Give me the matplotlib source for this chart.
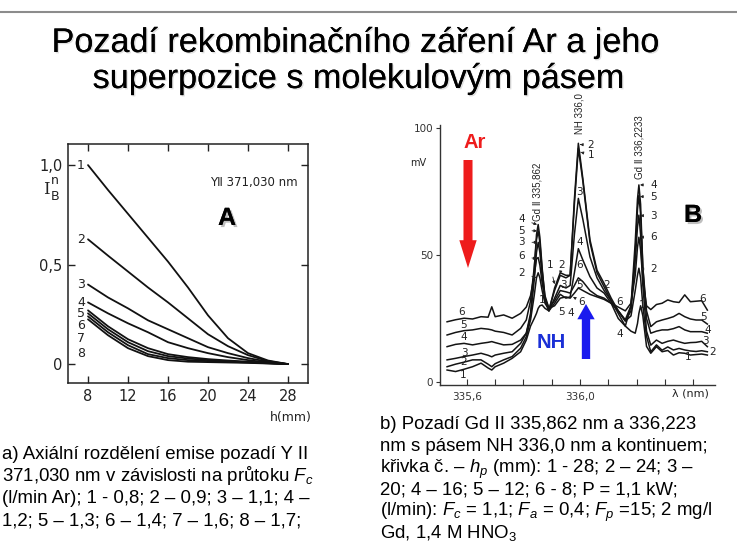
import numpy as np
import matplotlib
matplotlib.use('Agg')
import matplotlib.pyplot as plt
import matplotlib.patheffects as pe
from matplotlib.lines import Line2D

plt.rcParams['font.family'] = ['DejaVu Sans']
plt.rcParams['mathtext.fontset'] = 'custom'
plt.rcParams['mathtext.rm'] = 'Liberation Sans'
plt.rcParams['mathtext.it'] = 'Liberation Sans:italic'

# --- A: axial background distribution, Y II 371,030 nm ---
h_mm = [8, 10, 12, 14, 16, 18, 20, 22, 24, 26, 28]
ia_1 = [1.0, 0.875, 0.755, 0.635, 0.515, 0.385, 0.245, 0.13, 0.055, 0.018, 0.0]
ia_2 = [0.627, 0.545, 0.465, 0.385, 0.31, 0.23, 0.15, 0.09, 0.045, 0.015, 0.0]
ia_3 = [0.40, 0.335, 0.28, 0.22, 0.175, 0.13, 0.085, 0.055, 0.03, 0.012, 0.0]
ia_4 = [0.31, 0.255, 0.205, 0.16, 0.11, 0.08, 0.055, 0.035, 0.02, 0.008, 0.0]
ia_5 = [0.27, 0.19, 0.125, 0.08, 0.05, 0.035, 0.025, 0.018, 0.012, 0.006, 0.0]
ia_6 = [0.255, 0.175, 0.11, 0.065, 0.04, 0.028, 0.02, 0.014, 0.01, 0.005, 0.0]
ia_7 = [0.24, 0.16, 0.095, 0.05, 0.03, 0.02, 0.015, 0.012, 0.008, 0.004, 0.0]
ia_8 = [0.225, 0.145, 0.08, 0.04, 0.02, 0.012, 0.01, 0.008, 0.006, 0.003, 0.0]
curves_a = [ia_1, ia_2, ia_3, ia_4, ia_5, ia_6, ia_7, ia_8]
names_a = ['1', '2', '3', '4', '5', '6', '7', '8']

# --- B: Gd II lines on the NH band, curves 1-6 ---
lam = [335.53, 335.56, 335.59, 335.62, 335.65, 335.675, 335.688, 335.70, 335.73,
       335.76, 335.79, 335.81, 335.825, 335.838, 335.846, 335.852, 335.858,
       335.866, 335.876, 335.89, 335.91, 335.93, 335.95, 335.965, 335.98,
       335.994, 336.01, 336.035, 336.06, 336.085, 336.11, 336.135, 336.16,
       336.18, 336.195, 336.203, 336.208, 336.214, 336.222, 336.235, 336.25,
       336.27, 336.29, 336.31, 336.33, 336.35, 336.37, 336.39, 336.41, 336.43,
       336.45]
mv_1 = [4.7, 4.1, 5.0, 6.0, 7.4, 5.5, 4.7, 6.0, 7.4, 9.3, 11.9, 16.5, 22, 25,
        27, 29, 30, 30.3, 29, 28, 37, 43, 42, 42, 70, 92, 79, 55, 43, 37.5, 32,
        27, 22, 20, 19.2, 23, 27, 30, 26, 14, 11.3, 13.9, 11.9, 12.4, 10.6,
        11.5, 11.3, 10.6, 10.8, 11.0, 10.6]
mv_2 = [6.0, 7.0, 7.8, 8.7, 8.7, 7.0, 6.0, 7.2, 8.7, 10.0, 13.3, 17.8, 24.4,
        34, 41, 43, 41, 36, 31, 28.5, 36, 42, 41, 42, 72, 94, 80, 56, 44, 38.8,
        33, 28, 24, 26, 36, 42, 44.8, 41, 30, 18, 11.9, 14.6, 12.5, 13.8, 12.6,
        13.2, 12.6, 12.2, 12.0, 12.3, 11.9]
mv_3 = [8.7, 9.3, 10.0, 10.6, 11.3, 10.5, 9.9, 10.6, 11.3, 11.9, 15.2, 19.2,
        25.7, 40, 51, 55, 51, 42, 32, 28, 33, 38, 37, 38, 58, 72.3, 64, 49.3,
        41, 36, 32, 28, 24, 28, 48, 61, 65.7, 58, 38, 20, 14.5, 16.5, 15.2,
        16.0, 16.5, 15.8, 15.2, 15.5, 15.6, 16.0, 13.9]
mv_4 = [13.9, 14.8, 15.2, 14.6, 15.2, 15.6, 15.9, 15.5, 14.6, 14.8, 16.5, 19.2,
        27, 44, 58, 62, 57, 45, 33, 28, 31, 34.5, 33, 33.5, 43, 52.5, 48, 41.5,
        37, 35, 31, 25, 22, 30, 55, 72, 77.6, 70, 45, 25, 19.2, 20.0, 20.5,
        20.5, 21.0, 21.8, 20.5, 19.8, 19.8, 19.8, 19.2]
mv_5 = [18.5, 19.5, 20.2, 20.5, 21.1, 20.8, 20.5, 20.0, 19.5, 18.5, 21.1, 24.4,
        32, 45, 56, 59.5, 55, 44, 34, 29, 32, 36, 35.5, 35, 38, 41, 39.5, 36,
        34, 33, 31, 28, 24.5, 30, 50, 68, 73.5, 66, 45, 28, 21.8, 23.7, 24.4,
        25.0, 25.7, 27.0, 25.7, 24.8, 24.4, 24.4, 22.8]
mv_6 = [23.7, 24.5, 25.1, 24.8, 25.7, 25.5, 29.6, 25.7, 26.4, 25.1, 27.0, 29.5,
        34, 42, 48.5, 49, 46, 39, 33, 29, 30, 33, 33.5, 33, 35, 37, 36, 34.5,
        33.5, 32.5, 31, 29.5, 28, 31, 42, 53, 57, 52, 40, 30, 28.5, 30.5, 31.0,
        32.3, 31.6, 31.3, 34.3, 31.6, 31.8, 32.0, 28.3]
curves_b = [mv_1, mv_2, mv_3, mv_4, mv_5, mv_6]

W, H = 737, 550
fig = plt.figure(figsize=(W / 100, H / 100), dpi=100)
fig.patch.set_facecolor('white')


def fpx(x, y):
    # pixel position measured from the top-left corner -> figure fraction
    return x / W, 1 - y / H


shadow = [pe.withSimplePatchShadow(offset=(1.5, -1.5), shadow_rgbFace='k', alpha=0.25),
          pe.Normal()]
soft_shadow = [pe.withSimplePatchShadow(offset=(1, -1), shadow_rgbFace='k', alpha=0.12),
               pe.Normal()]

# header rule and title
fig.add_artist(Line2D([0, 1], [1 - 12 / H] * 2, color='#8c8c8c', lw=1.5))
title_font = dict(family='Liberation Sans', fontsize=24.6, ha='center', va='baseline',
                  color='black', path_effects=soft_shadow)
fig.text(*fpx(355, 52), 'Pozadí rekombinačního záření Ar a jeho', **title_font)
fig.text(*fpx(358, 88), 'superpozice s molekulovým pásem', **title_font)

# ---------------- panel A ----------------
axA = fig.add_axes([68 / W, 1 - 383 / H, 240 / W, 239 / H])
for c in curves_a:
    axA.plot(h_mm, c, color='#111111', lw=1.3, solid_capstyle='round')
axA.set_xlim(6, 30)
axA.set_ylim(-0.095, 1.106)
axA.set_xticks([8, 12, 16, 20, 24, 28])
axA.set_yticks([0, 0.5, 1.0])
axA.set_yticklabels(['0', '0,5', '1,0'])
axA.tick_params(direction='in', top=True, right=True, length=5, width=1,
                labelsize=10.5, colors='#222222', pad=4)
for s in axA.spines.values():
    s.set_linewidth(1.1)
    s.set_color('#222222')
label_y_a = [1.0, 0.627, 0.40, 0.312, 0.254, 0.193, 0.131, 0.055]
for name, yy in zip(names_a, label_y_a):
    axA.text(7.7, yy, name, ha='right', va='center', fontsize=9, color='#222222')
axA.text(29.0, 0.915, 'YⅡ 371,030 nm', ha='right', va='center', fontsize=8.5,
         color='#222222')
fig.text(*fpx(227, 218), 'A', family='Liberation Sans', fontweight='bold',
         fontsize=18, ha='center', va='center', path_effects=shadow)
# ordinate symbol I_B^n
fig.text(*fpx(46, 189), 'I', family='DejaVu Serif', fontsize=12,
         ha='center', va='center', color='#222222')
fig.text(*fpx(55, 180), 'n', fontsize=9, ha='center', va='center', color='#222222')
fig.text(*fpx(55, 196), 'B', fontsize=9, ha='center', va='center', color='#222222')
fig.text(*fpx(291, 418), 'h(mm)', fontsize=9, ha='center', va='center',
         color='#222222')

# ---------------- panel B ----------------
axB = fig.add_axes([440 / W, 1 - 385 / H, 275 / W, 260 / H])
for c in curves_b:
    axB.plot(lam, c, color='#141414', lw=1.1)
axB.set_xlim(335.505, 336.477)
axB.set_ylim(-1.2, 101.2)
axB.spines['top'].set_visible(False)
axB.spines['right'].set_visible(False)
for s in ('left', 'bottom'):
    axB.spines[s].set_linewidth(1.0)
    axB.spines[s].set_color('#333333')
axB.set_xticks([335.6, 335.7, 335.8, 335.9, 336.0, 336.1, 336.2, 336.3, 336.4])
axB.set_xticklabels(['335,6', '', '', '', '336,0', '', '', '', ''])
axB.set_yticks([0, 50, 100])
axB.set_yticklabels(['0', '50', '100'])
axB.tick_params(axis='x', direction='in', length=4, labelsize=7.5,
                colors='#333333', pad=5)
axB.tick_params(axis='y', direction='out', length=3, labelsize=7.5,
                colors='#333333', pad=2)

lab_font = dict(fontsize=7.5, color='#222222', ha='center', va='center')
# plain curve numbers
plain_labels = [('6', 335.582, 27.7), ('5', 335.588, 22.4), ('4', 335.588, 17.8),
                ('3', 335.592, 11.5), ('2', 335.588, 8.0), ('1', 335.588, 2.8),
                ('1', 335.866, 32.3), ('3', 335.941, 38.2), ('5', 335.935, 27.7),
                ('4', 335.967, 27.3), ('3', 335.998, 74.9), ('4', 335.998, 55.2),
                ('6', 335.998, 46.0), ('5', 335.998, 38.2), ('2', 336.094, 38.2),
                ('6', 336.141, 31.6), ('4', 336.139, 18.8), ('1', 336.218, 30.3),
                ('6', 336.434, 32.6), ('5', 336.437, 25.6), ('4', 336.452, 20.6),
                ('3', 336.445, 16.2), ('2', 336.468, 11.8), ('1', 336.383, 9.8)]
for t, x, y in plain_labels:
    axB.text(x, y, t, **lab_font)
# numbers with leaders to the line maxima
lead_labels = [('4', 335.794, 64.0, 335.848, 62.0), ('5', 335.794, 59.6, 335.848, 59.5),
               ('3', 335.794, 55.0, 335.849, 55.0), ('6', 335.794, 49.6, 335.846, 48.5),
               ('2', 335.794, 43.0, 335.846, 41.0), ('1', 335.894, 46.0, 335.91, 38.5),
               ('2', 335.935, 46.0, 335.93, 42.5), ('6', 336.006, 31.6, 335.975, 33.5),
               ('2', 336.038, 93.3, 336.0, 93.5), ('1', 336.038, 89.4, 336.002, 90.5),
               ('4', 336.259, 77.6, 336.212, 77.6), ('5', 336.259, 73.0, 336.212, 73.0),
               ('3', 336.259, 65.5, 336.213, 65.5), ('6', 336.259, 57.2, 336.213, 57.0),
               ('2', 336.259, 44.5, 336.214, 44.5)]
for t, x, y, xa, ya in lead_labels:
    axB.annotate(t, xy=(xa, ya), xytext=(x, y), **lab_font,
                 arrowprops=dict(arrowstyle='-|>', lw=0.6, color='#222222',
                                 mutation_scale=4, shrinkA=3, shrinkB=0))

peak_font = dict(family=['Liberation Sans', 'DejaVu Sans'], fontsize=7, rotation=90,
                 ha='center', va='center', color='#222222')
fig.text(*fpx(537, 192), 'Gd Ⅱ 335,862', **peak_font)
fig.text(*fpx(579, 114), 'NH 336,0', **peak_font)
fig.text(*fpx(640, 147), 'Gd Ⅱ 336,2233', **peak_font)
fig.text(*fpx(418, 163), 'mV', fontsize=7, ha='center', va='center', color='#222222')
fig.text(*fpx(690, 393), 'λ (nm)', fontsize=8, ha='center', va='center',
         color='#222222')

# Ar (down) and NH (up) arrows
fig.text(*fpx(475, 143), 'Ar', family='Liberation Sans', fontweight='bold',
         fontsize=14.5, color='#ee1c1c', ha='center', va='center')
axB.annotate('', xy=fpx(468, 268), xytext=fpx(468, 160), xycoords='figure fraction',
             textcoords='figure fraction',
             arrowprops=dict(facecolor='#ee1c1c', edgecolor='none', width=6.5,
                             headwidth=12.5, headlength=20, shrink=0))
fig.text(*fpx(551, 343), 'NH', family='Liberation Sans', fontweight='bold',
         fontsize=14.5, color='#1a2fd6', ha='center', va='center')
axB.annotate('', xy=fpx(586, 304), xytext=fpx(586, 359), xycoords='figure fraction',
             textcoords='figure fraction',
             arrowprops=dict(facecolor='#1a1aee', edgecolor='none', width=6,
                             headwidth=12.5, headlength=11, shrink=0))
fig.text(*fpx(693, 215), 'B', family='Liberation Sans', fontweight='bold',
         fontsize=18, ha='center', va='center', path_effects=shadow)

# captions
cap_font = dict(family='Liberation Sans', fontsize=13.4, ha='left', va='baseline',
                color='black')
cap_a = ['a) Axiální rozdělení emise pozadí Y II',
         r'371,030 nm v závislosti na průtoku $F_c$',
         '(l/min Ar); 1 - 0,8; 2 – 0,9; 3 – 1,1; 4 –',
         '1,2; 5 – 1,3; 6 – 1,4; 7 – 1,6; 8 – 1,7;']
for i, line in enumerate(cap_a):
    fig.text(*fpx(2, 459 + 22 * i), line, **cap_font)
cap_b = ['b) Pozadí Gd II 335,862 nm a 336,223',
         'nm s pásem NH 336,0 nm a kontinuem;',
         r'křivka č. – $h_p$ (mm): 1 - 28; 2 – 24; 3 –',
         '20; 4 – 16; 5 – 12; 6 - 8; P = 1,1 kW;',
         r'(l/min): $F_c$ = 1,1; $F_a$ = 0,4; $F_p$ =15; 2 mg/l',
         r'Gd, 1,4 M HNO$_3$']
for i, line in enumerate(cap_b):
    fig.text(*fpx(380, 429 + 21.8 * i), line, **cap_font)

fig.savefig('out.png', dpi=100)
